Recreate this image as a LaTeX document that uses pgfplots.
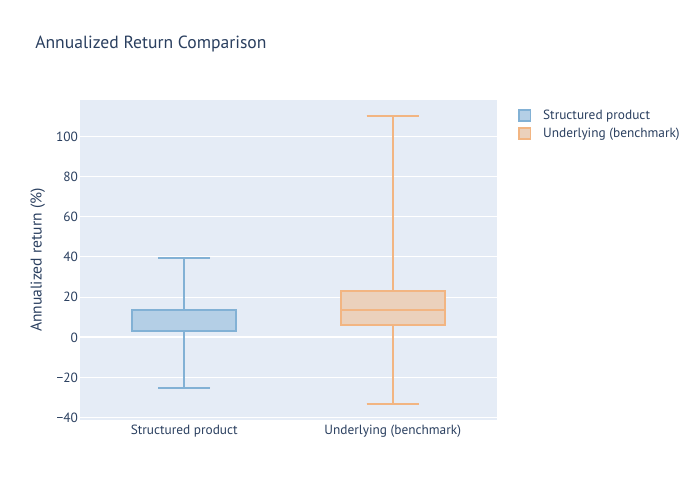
\documentclass[border=0pt]{standalone}
\usepackage{pgfplots}
\pgfplotsset{compat=1.18}
\usepgfplotslibrary{statistics}
\usepackage{fontspec}
\setmainfont{PT Sans}

\definecolor{bgplot}{HTML}{E5ECF6}
\definecolor{txt}{HTML}{2A3F5F}
\definecolor{bline}{RGB}{130,177,213}
\definecolor{bfill}{RGB}{180,207,230}
\definecolor{oline}{RGB}{242,181,130}
\definecolor{ofill}{RGB}{235,209,188}

\begin{document}
\begin{tikzpicture}
	\useasboundingbox (0pt,0pt) rectangle (525pt,375pt);
	% title, placed like plotly does
	\node[anchor=west, inner sep=0pt, text=txt, font=\fontsize{13.2}{15}\selectfont] at (26.25pt,342pt) {Annualized Return Comparison};
	\begin{axis}[
		at={(60pt,60pt)}, anchor=south west,
		scale only axis,
		width=312.75pt, height=240pt,
		xmin=-0.5, xmax=1.5,
		ymin=-41.1, ymax=118.1,
		boxplot/draw direction=y,
		axis background/.style={fill=bgplot},
		axis line style={draw=none},
		tick style={draw=none},
		xtick={0,1},
		xticklabels={Structured product, Underlying (benchmark)},
		ytick={-40,-20,0,20,40,60,80,100},
		yticklabels={−40,−20,0,20,40,60,80,100},
		ymajorgrids,
		major grid style={white, line width=0.75pt},
		ticklabel style={text=txt, font=\fontsize{10}{11}\selectfont},
		yticklabel style={xshift=2pt},
		ylabel={Annualized return (\%)},
		ylabel style={text=txt, font=\fontsize{11.7}{13}\selectfont, yshift=1.5pt},
		clip=false,
		legend style={at={(1.041,1)}, anchor=north west, yshift=-3pt, draw=none, fill=none,
			text=txt, font=\fontsize{10}{11}\selectfont, row sep=1pt},
		legend cell align=left,
		legend image code/.code={\draw[#1, line width=1.2pt] (0pt,-4.2pt) rectangle (8.4pt,4.2pt);
			\path[draw=none, fill=none] (8.4pt,0pt) -- (16pt,0pt);},
		]
		% zero line
		\addplot[white, line width=1.5pt, forget plot] coordinates {(-0.5,0) (1.5,0)};
		\addplot[boxplot prepared={
			draw position=0,
			lower whisker=-25.1, lower quartile=3.3,
			median=13.6, upper quartile=13.6,
			upper whisker=39.6,
			box extend=0.5, whisker extend=0.25},
			draw=bline, fill=bfill, line width=1.5pt, solid]
			coordinates {};
		\addlegendentry{Structured product}
		\addplot[boxplot prepared={
			draw position=1,
			lower whisker=-33.0, lower quartile=6.1,
			median=13.6, upper quartile=23.0,
			upper whisker=110.2,
			box extend=0.5, whisker extend=0.25},
			draw=oline, fill=ofill, line width=1.5pt, solid]
			coordinates {};
		\addlegendentry{Underlying (benchmark)}
	\end{axis}
\end{tikzpicture}
\end{document}
